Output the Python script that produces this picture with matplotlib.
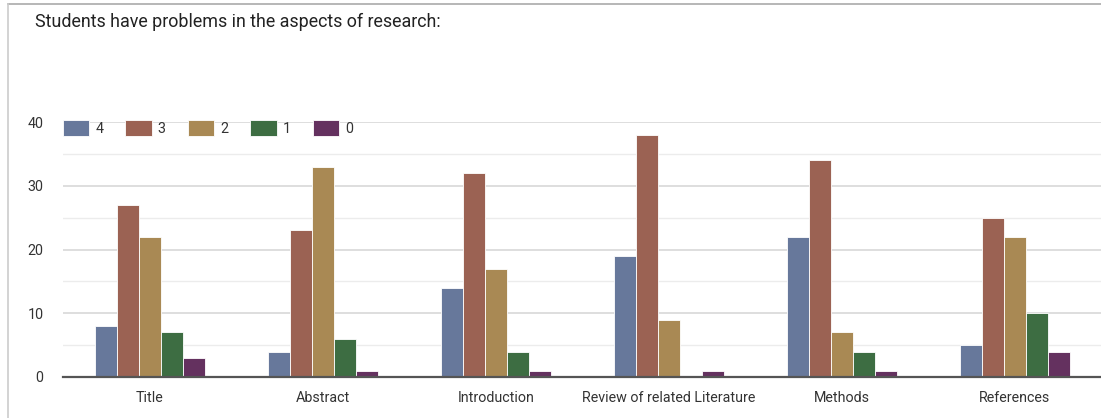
import matplotlib
matplotlib.use("Agg")
import matplotlib.pyplot as plt
from matplotlib.lines import Line2D
import numpy as np

categories = ["Title", "Abstract", "Introduction", "Review of related Literature", "Methods", "References"]
series_labels = ["4", "3", "2", "1", "0"]
s4 = [8, 4, 14, 19, 22, 5]
s3 = [27, 23, 32, 38, 34, 25]
s2 = [22, 33, 17, 9, 7, 22]
s1 = [7, 6, 4, 0, 4, 10]
s0 = [3, 1, 1, 1, 1, 4]
yticks = [0, 10, 20, 30, 40]

colors = ["#67789b", "#9b6253", "#a98954", "#3d6d42", "#64315f"]

plt.rcParams['font.family'] = ['Roboto', 'DejaVu Sans']

fig = plt.figure(figsize=(11.01, 4.18), dpi=100)
W, H = 1101, 418
ax = fig.add_axes([63 / W, 41 / H, (1105 - 63) / W, (377 - 122) / H])

x = np.arange(len(categories))
width = 0.127
data = [s4, s3, s2, s1, s0]
for i, (vals, lab, c) in enumerate(zip(data, series_labels, colors)):
    ax.bar(x + (i - 2) * width, vals, width, color=c, edgecolor="white",
           linewidth=0.6, label=lab, zorder=3)

ax.set_xlim(-0.5, len(categories) - 0.5 + 0.02)
ax.set_ylim(0, 40)
ax.set_yticks(yticks)
ax.set_yticks([5, 15, 25, 35], minor=True)
ax.grid(axis="y", which="major", color="#d8d8d8", linewidth=1.2, zorder=0)
ax.grid(axis="y", which="minor", color="#ececec", linewidth=1.0, zorder=0)
ax.set_xticks(x)
ax.set_xticklabels(categories, fontsize=10.3, color="#222222")
ax.tick_params(axis="both", which="both", length=0)
ax.tick_params(axis="both", labelsize=10.3, labelcolor="#333333")
ax.tick_params(axis="x", pad=10)
ax.tick_params(axis="y", pad=14)
for s in ["top", "right", "left"]:
    ax.spines[s].set_visible(False)
ax.spines["bottom"].set_color("#555555")
ax.spines["bottom"].set_linewidth(1.6)
ax.spines["bottom"].set_zorder(4)

leg = ax.legend(loc="center left", bbox_to_anchor=(0.0, 1.0 - 6 / 255), ncol=5,
                frameon=False, fontsize=10.3, handlelength=1.85, handleheight=1.35,
                handletextpad=0.4, columnspacing=1.55, borderaxespad=0, borderpad=0)
for t in leg.get_texts():
    t.set_color("#333333")

fig.text(35 / W, 1 - 22 / H, "Students have problems in the aspects of research:",
         fontsize=12.9, color="#222222", va="center", ha="left")

# screenshot border
fig.add_artist(Line2D([8 / W, 1.0], [1 - 4 / H, 1 - 4 / H], color="#aaaaaa", linewidth=1.2))
fig.add_artist(Line2D([8 / W, 8 / W], [0, 1 - 4 / H], color="#cccccc", linewidth=1.2))

fig.savefig("out.png", dpi=100)
